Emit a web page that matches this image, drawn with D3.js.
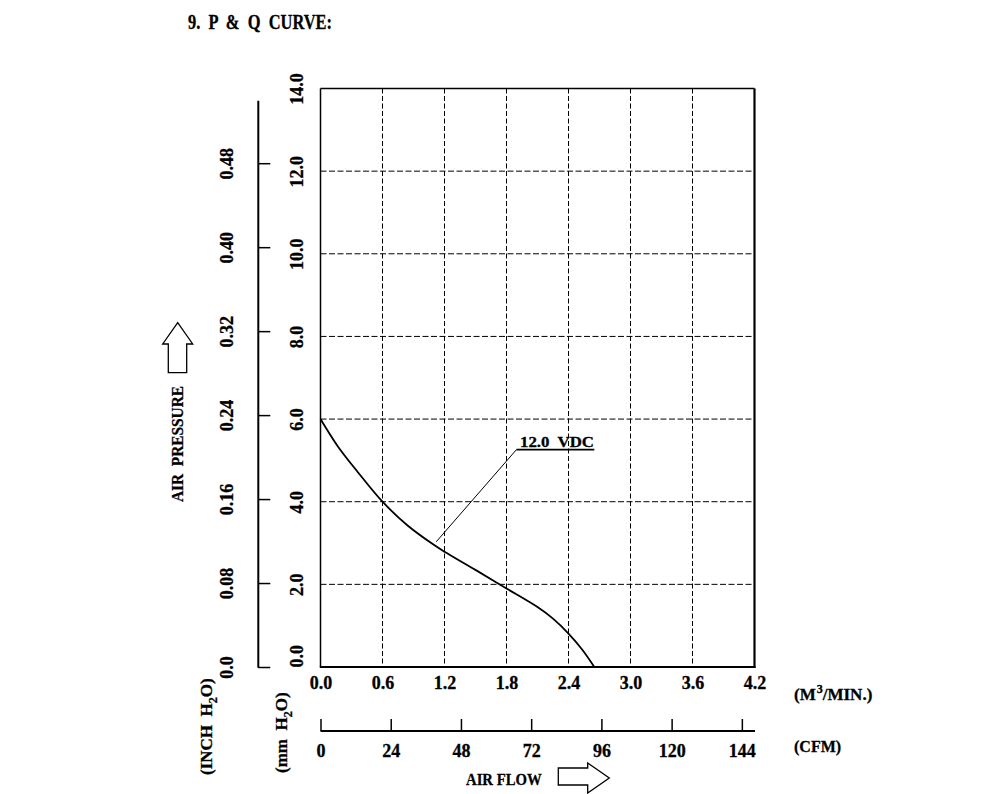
<!DOCTYPE html>
<html>
<head>
<meta charset="utf-8">
<script src="https://cdn.jsdelivr.net/npm/d3@7"></script>
<style>
body { margin: 0; background: #fff; }
svg text { font-family: "Liberation Serif", "DejaVu Serif", serif; font-weight: bold; fill: #000; stroke: #000; stroke-width: 0.3; white-space: pre; }
</style>
</head>
<body>
<svg id="chart" width="1000" height="794"></svg>
<script>
// P & Q curve, 12.0 VDC
var flow = [0, 0.17, 0.36, 0.6, 0.84, 1.1, 1.2, 1.5, 1.8, 2.1, 2.25, 2.4, 2.53, 2.65];          // M3/MIN
var pressure = [6.0, 5.33, 4.72, 4.0, 3.43, 2.95, 2.79, 2.35, 1.9, 1.45, 1.17, 0.81, 0.43, 0];  // mm H2O
var flow_ticks = [0, 0.6, 1.2, 1.8, 2.4, 3.0, 3.6, 4.2];
var cfm_ticks = [0, 24, 48, 72, 96, 120, 144];
var mm_ticks = [0, 2, 4, 6, 8, 10, 12, 14];
var inch_ticks = [0, 0.08, 0.16, 0.24, 0.32, 0.40, 0.48];
var inch_labels = ['0.0', '0.08', '0.16', '0.24', '0.32', '0.40', '0.48'];
var label_flow = [1.12, 1.896, 2.65];
var label_pres = [3.03, 5.26, 5.26];

var svg = d3.select('#chart');
var left = 320.5, right = 754.5, top_y = 88.5, bottom = 667;

var x = d3.scaleLinear().domain([0, 4.2]).range([left, right]);
var x_cfm = d3.scaleLinear().domain([0, 4.2 * 35.315]).range([left, right]);
var y = d3.scaleLinear().domain([0, 14]).range([bottom, top_y]);
var y_inch = d3.scaleLinear().domain([0, 14 / 25.4]).range([bottom, top_y]);

// title
svg.append('text').attr('x', 188).attr('y', 29).attr('font-size', 21)
	.attr('textLength', 144).attr('lengthAdjust', 'spacingAndGlyphs')
	.text('9.  P  &  Q  CURVE:');

// grid
svg.append('g').selectAll('line').data(flow_ticks.slice(1, -1)).enter().append('line')
	.attr('x1', function(d) { return x(d); }).attr('x2', function(d) { return x(d); })
	.attr('y1', top_y).attr('y2', bottom)
	.attr('stroke', '#000').attr('stroke-width', 1).attr('stroke-dasharray', '5,2.5');
svg.append('g').selectAll('line').data(mm_ticks.slice(1, -1)).enter().append('line')
	.attr('x1', left).attr('x2', right)
	.attr('y1', function(d) { return y(d); }).attr('y2', function(d) { return y(d); })
	.attr('stroke', '#000').attr('stroke-width', 1).attr('stroke-dasharray', '6,2.5');

// frame
svg.append('line').attr('x1', left).attr('x2', right).attr('y1', top_y).attr('y2', top_y).attr('stroke', '#000').attr('stroke-width', 1.5);
svg.append('line').attr('x1', left).attr('x2', left).attr('y1', top_y).attr('y2', bottom).attr('stroke', '#000').attr('stroke-width', 1.5);
svg.append('line').attr('x1', right).attr('x2', right).attr('y1', top_y).attr('y2', bottom + 1).attr('stroke', '#000').attr('stroke-width', 2.2);
svg.append('line').attr('x1', left - 0.7).attr('x2', right + 1).attr('y1', bottom).attr('y2', bottom).attr('stroke', '#000').attr('stroke-width', 2.2);

// mm H2O axis
var mm_axis = svg.append('g').attr('transform', 'translate(' + left + ',0)')
	.call(d3.axisLeft(y).tickValues(mm_ticks).tickSize(0).tickFormat(d3.format('.1f')));
mm_axis.select('.domain').remove();
mm_axis.selectAll('text')
	.attr('x', null).attr('dy', null).attr('font-size', 18)
	.attr('text-anchor', function(d) { return d === 0 ? 'start' : 'middle'; })
	.attr('transform', 'translate(-17.8,0) rotate(-90)');

// INCH H2O axis
var inch_x = 258.3;
var inch_axis = svg.append('g').attr('transform', 'translate(' + inch_x + ',0)')
	.call(d3.axisRight(y_inch).tickValues(inch_ticks).tickSizeInner(12).tickSizeOuter(0)
		.tickFormat(function(d, i) { return inch_labels[i]; }));
inch_axis.select('.domain').remove();
inch_axis.selectAll('line').attr('stroke-width', 1.5);
inch_axis.selectAll('text')
	.attr('x', null).attr('dy', null).attr('font-size', 18).attr('text-anchor', 'middle')
	.attr('transform', 'translate(-25.6,0) rotate(-90)');
svg.append('line').attr('x1', inch_x).attr('x2', inch_x).attr('y1', 100.7).attr('y2', bottom + 0.8)
	.attr('stroke', '#000').attr('stroke-width', 2);

// M3/MIN axis labels
var flow_axis = svg.append('g').attr('transform', 'translate(0,' + bottom + ')')
	.call(d3.axisBottom(x).tickValues(flow_ticks).tickSize(0).tickFormat(d3.format('.1f')));
flow_axis.select('.domain').remove();
flow_axis.selectAll('text').attr('y', 22.3).attr('dy', null).attr('font-size', 18);

// CFM axis
var cfm_axis = svg.append('g').attr('transform', 'translate(0,731)')
	.call(d3.axisBottom(x_cfm).tickValues(cfm_ticks).tickSizeInner(-12).tickSizeOuter(0));
cfm_axis.select('.domain').attr('d', 'M' + left + ',0H' + (right + 0.5)).attr('stroke-width', 1.8);
cfm_axis.selectAll('line').attr('stroke-width', 1.5);
cfm_axis.selectAll('text').attr('y', 25.7).attr('dy', null).attr('font-size', 18);

svg.selectAll('.tick text').attr('fill', '#000');
svg.selectAll('g').attr('font-family', null);

// P-Q curve
var line = d3.line()
	.x(function(d, i) { return x(flow[i]); })
	.y(function(d, i) { return y(pressure[i]); })
	.curve(d3.curveCatmullRom.alpha(0.5));
svg.append('path').datum(flow).attr('d', line)
	.attr('fill', 'none').attr('stroke', '#000').attr('stroke-width', 1.8);

// 12.0 VDC label
svg.append('path').attr('d',
	'M' + x(label_flow[0]) + ',' + y(label_pres[0]) + 'L' + x(label_flow[1]) + ',' + y(label_pres[1]))
	.attr('stroke', '#000').attr('stroke-width', 1).attr('fill', 'none');
svg.append('path').attr('d',
	'M' + x(label_flow[1]) + ',' + y(label_pres[1]) + 'L' + x(label_flow[2]) + ',' + y(label_pres[2]))
	.attr('stroke', '#000').attr('stroke-width', 1.6).attr('fill', 'none');
svg.append('text').attr('x', 520).attr('y', 446.5).attr('font-size', 15)
	.attr('textLength', 74).attr('lengthAdjust', 'spacingAndGlyphs').text('12.0  VDC');

// unit labels
var t = svg.append('text').attr('x', 794).attr('y', 699.5).attr('font-size', 17);
t.append('tspan').text('(M');
t.append('tspan').attr('font-size', 12).attr('dy', -7).attr('dx', 1).text('3');
t.append('tspan').attr('dy', 7).text('/MIN.)');
svg.append('text').attr('x', 794).attr('y', 752).attr('font-size', 16).text('(CFM)');

var t2 = svg.append('text').attr('transform', 'translate(211.7,775) rotate(-90)').attr('font-size', 17);
t2.append('tspan').text('(INCH  H');
t2.append('tspan').attr('font-size', 12).attr('dy', 5).text('2');
t2.append('tspan').attr('dy', -5).text('O)');
var t3 = svg.append('text').attr('transform', 'translate(286.7,773) rotate(-90)').attr('font-size', 17);
t3.append('tspan').text('(mm  H');
t3.append('tspan').attr('font-size', 12).attr('dy', 5).text('2');
t3.append('tspan').attr('dy', -5).text('O)');

svg.append('text').attr('transform', 'translate(183.3,502) rotate(-90)').attr('font-size', 17.5)
	.attr('textLength', 116).attr('lengthAdjust', 'spacingAndGlyphs').text('AIR  PRESSURE');
svg.append('text').attr('x', 466).attr('y', 785).attr('font-size', 17.5)
	.attr('textLength', 75.7).attr('lengthAdjust', 'spacingAndGlyphs').text('AIR FLOW');

// arrows
svg.append('path')
	.attr('d', 'M168.3,372.7V344H162.7L177.7,322.7L192.7,344H186.7V372.7Z')
	.attr('fill', '#fff').attr('stroke', '#000').attr('stroke-width', 1.3);
svg.append('path')
	.attr('d', 'M558.3,768H587.7V763L609.3,778L587.7,793V785H558.3Z')
	.attr('fill', '#fff').attr('stroke', '#000').attr('stroke-width', 1.3);
</script>
</body>
</html>
